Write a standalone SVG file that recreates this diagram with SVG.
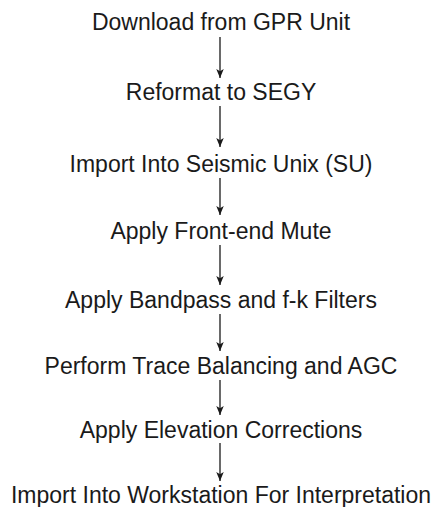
<svg xmlns="http://www.w3.org/2000/svg" width="434" height="507" viewBox="0 0 434 507">
  <style>
    .step text { font-family: "Liberation Sans", Arial, sans-serif; font-size: 23px; fill: #1a1a1a; text-anchor: middle; }
    .flow line { stroke: #1a1a1a; stroke-width: 1.3; marker-end: url(#head); }
  </style>
  <defs>
    <!-- narrow filled arrowhead, tip at the end of the line -->
    <marker id="head" viewBox="0 0 12 10" refX="12" refY="5" markerWidth="13" markerHeight="7.5" markerUnits="userSpaceOnUse" orient="auto">
      <path d="M0,0 L12,5 L0,10 L3,5 Z" fill="#1a1a1a"/>
    </marker>
  </defs>
  <rect width="434" height="507" fill="#ffffff"/>

  <g class="step" id="download"><text x="221" y="30">Download from GPR Unit</text></g>
  <g class="step" id="reformat"><text x="221" y="100">Reformat to SEGY</text></g>
  <g class="step" id="import-su"><text x="221" y="172">Import Into Seismic Unix (SU)</text></g>
  <g class="step" id="mute"><text x="221" y="239">Apply Front-end Mute</text></g>
  <g class="step" id="filters"><text x="221" y="308">Apply Bandpass and f-k Filters</text></g>
  <g class="step" id="balance"><text x="221" y="374">Perform Trace Balancing and AGC</text></g>
  <g class="step" id="elevation"><text x="221" y="438">Apply Elevation Corrections</text></g>
  <g class="step" id="workstation"><text x="221" y="503">Import Into Workstation For Interpretation</text></g>

  <g class="flow" id="connectors">
    <line x1="220" y1="37" x2="220" y2="78"/>
    <line x1="220" y1="106" x2="220" y2="147"/>
    <line x1="220" y1="178" x2="220" y2="215"/>
    <line x1="220" y1="245" x2="220" y2="285"/>
    <line x1="220" y1="314" x2="220" y2="351"/>
    <line x1="220" y1="380" x2="220" y2="415"/>
    <line x1="220" y1="443" x2="220" y2="481"/>
  </g>
</svg>
